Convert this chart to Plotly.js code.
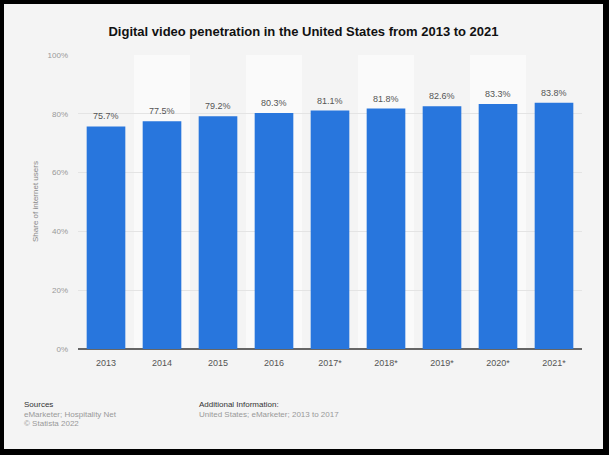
<!DOCTYPE html>
<html>
<head>
<meta charset="utf-8">
<script src="https://cdn.plot.ly/plotly-3.0.1.min.js"></script>
<style>
  html, body { margin: 0; padding: 0; background: #000; width: 609px; height: 455px; overflow: hidden; }
  #chart { position: absolute; left: 4px; top: 4px; width: 599px; height: 445px; }
</style>
</head>
<body>
<div id="chart"></div>
<script>
// ---- data ----
const categories = ["2013", "2014", "2015", "2016", "2017*", "2018*", "2019*", "2020*", "2021*"];
const shareValues = [75.7, 77.5, 79.2, 80.3, 81.1, 81.8, 82.6, 83.3, 83.8];
const valueLabels = ["75.7%", "77.5%", "79.2%", "80.3%", "81.1%", "81.8%", "82.6%", "83.3%", "83.8%"];
const yTickValues = [0, 20, 40, 60, 80, 100];
const yTickLabels = ["0%", "20%", "40%", "60%", "80%", "100%"];
const chartTitle = "Digital video penetration in the United States from 2013 to 2021";
const yAxisTitle = "Share of internet users";
const sourcesHead = "Sources";
const sourcesLines = ["eMarketer; Hospitality Net", "© Statista 2022"];
const infoHead = "Additional Information:";
const infoLines = ["United States; eMarketer; 2013 to 2017"];

// ---- layout geometry ----
const W = 599, H = 445;
const M = { l: 74, r: 21, t: 51, b: 100 };
const PW = W - M.l - M.r, PH = H - M.t - M.b;
const px = x => (x - M.l) / PW;
const py = y => 1 - (y - M.t) / PH;
const FONT = "Liberation Sans, Arial, Helvetica, sans-serif";
const N = categories.length;

// alternating column stripes
const shapes = [];
categories.forEach((c, i) => {
  if (i % 2 === 1) {
    shapes.push({
      type: "rect", xref: "x", yref: "y", layer: "below",
      x0: i - 0.5, x1: i + 0.5, y0: 0, y1: 100,
      fillcolor: "#fafafa", line: { width: 0 }
    });
  }
});

const annotations = [];
// value labels
categories.forEach((c, i) => {
  annotations.push({
    x: i, y: shareValues[i], xref: "x", yref: "y",
    text: valueLabels[i], showarrow: false,
    yanchor: "bottom", yshift: 3,
    font: { family: FONT, size: 9, color: "#555555" }
  });
});
// y-axis title
annotations.push({
  x: px(31), y: py(198), xref: "paper", yref: "paper",
  text: yAxisTitle, textangle: -90, showarrow: false,
  xanchor: "center", yanchor: "middle",
  font: { family: FONT, size: 8, color: "#888888" }
});
// footer
annotations.push({
  x: px(18), y: py(400), xref: "paper", yref: "paper", text: sourcesHead,
  showarrow: false, xanchor: "left", yanchor: "middle",
  font: { family: FONT, size: 8, color: "#333333" }
});
sourcesLines.forEach((t, k) => annotations.push({
  x: px(18), y: py(410 + k * 9.5), xref: "paper", yref: "paper", text: t,
  showarrow: false, xanchor: "left", yanchor: "middle",
  font: { family: FONT, size: 8, color: "#999999" }
}));
annotations.push({
  x: px(193), y: py(400), xref: "paper", yref: "paper", text: infoHead,
  showarrow: false, xanchor: "left", yanchor: "middle",
  font: { family: FONT, size: 8, color: "#333333" }
});
infoLines.forEach((t, k) => annotations.push({
  x: px(193), y: py(410 + k * 9.5), xref: "paper", yref: "paper", text: t,
  showarrow: false, xanchor: "left", yanchor: "middle",
  font: { family: FONT, size: 8, color: "#999999" }
}));

const trace = {
  type: "bar",
  x: categories,
  y: shareValues,
  marker: { color: "#2876dd", line: { width: 0 } },
  hoverinfo: "none"
};

const layout = {
  width: W, height: H,
  margin: M,
  paper_bgcolor: "#f4f4f4",
  plot_bgcolor: "rgba(0,0,0,0)",
  bargap: 0.31,
  showlegend: false,
  title: {
    text: "<b>" + chartTitle + "</b>",
    font: { family: FONT, size: 13, color: "#111111" },
    x: 0.5, xanchor: "center", y: 1 - 27 / H, yanchor: "middle"
  },
  xaxis: {
    type: "category",
    range: [-0.5, N - 0.5],
    tickfont: { family: FONT, size: 9, color: "#555555" },
    showgrid: false, showline: false, zeroline: false, ticks: "",
    ticklabelstandoff: 7,
    fixedrange: true
  },
  yaxis: {
    range: [0, 100],
    tickvals: yTickValues, ticktext: yTickLabels,
    tickfont: { family: FONT, size: 8, color: "#999999" },
    showgrid: true, gridcolor: "#e4e4e4", gridwidth: 1,
    zeroline: true, zerolinecolor: "#666666", zerolinewidth: 2,
    showline: false, ticks: "",
    ticklabelstandoff: 9,
    fixedrange: true
  },
  shapes: shapes,
  annotations: annotations
};

Plotly.newPlot("chart", [trace], layout, { displayModeBar: false, staticPlot: true });
</script>
</body>
</html>
